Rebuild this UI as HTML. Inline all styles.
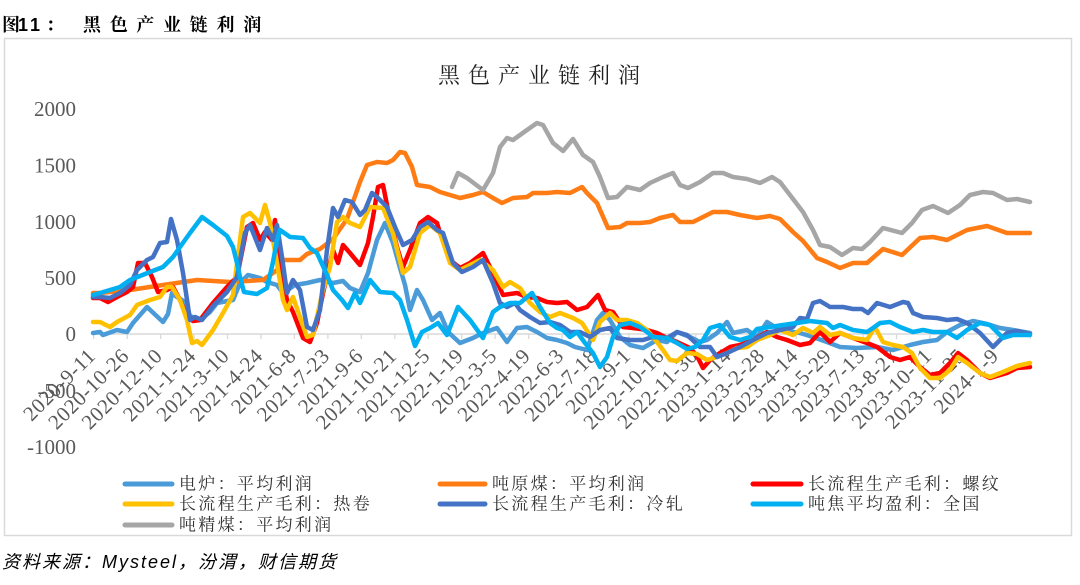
<!DOCTYPE html>
<html><head><meta charset="utf-8"><style>
html,body{margin:0;padding:0;background:#fff;}
svg{display:block;}
.yl{font-family:"Liberation Serif","Noto Serif CJK SC",serif;font-size:21px;fill:#595959;}
.xl{font-family:"Liberation Serif","Noto Serif CJK SC",serif;font-size:21px;fill:#595959;letter-spacing:0.6px;}
.lg{font-family:"Liberation Serif","Noto Serif CJK SC",serif;font-size:17px;fill:#333;letter-spacing:2.3px;}
.s{fill:none;stroke-width:4.5;stroke-linejoin:round;stroke-linecap:round;}
</style></head><body>
<svg width="1080" height="585" viewBox="0 0 1080 585" xmlns="http://www.w3.org/2000/svg">
<rect width="1080" height="585" fill="#fff"/>
<!-- header -->
<text x="2" y="31" font-family="'Liberation Serif','Noto Serif CJK SC',serif" font-size="18" font-weight="bold" fill="#000">图</text>
<text x="18" y="31" font-family="'Liberation Sans','Noto Sans CJK SC',sans-serif" font-size="18" font-weight="bold" fill="#000" letter-spacing="3">11</text>
<text x="46" y="31" font-family="'Liberation Serif','Noto Serif CJK SC',serif" font-size="18" font-weight="bold" fill="#000">：</text>
<text x="83" y="31" font-family="'Liberation Serif','Noto Serif CJK SC',serif" font-size="18" font-weight="bold" fill="#000" letter-spacing="8.7">黑色产业链利润</text>
<!-- frame -->
<rect x="4.5" y="38.5" width="1067" height="497" fill="none" stroke="#d9d9d9" stroke-width="1.5"/>
<!-- title -->
<text x="438" y="83" font-family="'Liberation Serif','Noto Serif CJK SC',serif" font-size="22" fill="#222" letter-spacing="8">黑色产业链利润</text>
<!-- y labels -->
<g class="yl" text-anchor="end" dominant-baseline="central">
<text x="76" y="109">2000</text>
<text x="76" y="165.5">1500</text>
<text x="76" y="222">1000</text>
<text x="76" y="278">500</text>
<text x="76" y="334">0</text>
<text x="76" y="391">-500</text>
<text x="76" y="447">-1000</text>
</g>
<!-- axis -->
<line x1="92" y1="334" x2="1031" y2="334" stroke="#d9d9d9" stroke-width="1.5"/>
<g stroke="#d9d9d9" stroke-width="1.3">
<line x1="93.7" y1="334" x2="93.7" y2="339"/><line x1="127.2" y1="334" x2="127.2" y2="339"/><line x1="160.6" y1="334" x2="160.6" y2="339"/><line x1="194.1" y1="334" x2="194.1" y2="339"/><line x1="227.5" y1="334" x2="227.5" y2="339"/><line x1="261" y1="334" x2="261" y2="339"/><line x1="294.4" y1="334" x2="294.4" y2="339"/><line x1="327.9" y1="334" x2="327.9" y2="339"/><line x1="361.3" y1="334" x2="361.3" y2="339"/><line x1="394.8" y1="334" x2="394.8" y2="339"/><line x1="428.2" y1="334" x2="428.2" y2="339"/><line x1="461.7" y1="334" x2="461.7" y2="339"/><line x1="495.1" y1="334" x2="495.1" y2="339"/><line x1="528.6" y1="334" x2="528.6" y2="339"/><line x1="562" y1="334" x2="562" y2="339"/><line x1="595.5" y1="334" x2="595.5" y2="339"/><line x1="628.9" y1="334" x2="628.9" y2="339"/><line x1="662.4" y1="334" x2="662.4" y2="339"/><line x1="695.8" y1="334" x2="695.8" y2="339"/><line x1="729.3" y1="334" x2="729.3" y2="339"/><line x1="762.7" y1="334" x2="762.7" y2="339"/><line x1="796.2" y1="334" x2="796.2" y2="339"/><line x1="829.6" y1="334" x2="829.6" y2="339"/><line x1="863.1" y1="334" x2="863.1" y2="339"/><line x1="896.5" y1="334" x2="896.5" y2="339"/><line x1="930" y1="334" x2="930" y2="339"/><line x1="963.4" y1="334" x2="963.4" y2="339"/><line x1="996.9" y1="334" x2="996.9" y2="339"/><line x1="1030.3" y1="334" x2="1030.3" y2="339"/>
</g>
<!-- x labels -->
<g class="xl" text-anchor="end">
<text transform="translate(96.7,357) rotate(-45)">2020-9-11</text>
<text transform="translate(130.2,357) rotate(-45)">2020-10-26</text>
<text transform="translate(163.6,357) rotate(-45)">2020-12-10</text>
<text transform="translate(197.1,357) rotate(-45)">2021-1-24</text>
<text transform="translate(230.5,357) rotate(-45)">2021-3-10</text>
<text transform="translate(264,357) rotate(-45)">2021-4-24</text>
<text transform="translate(297.4,357) rotate(-45)">2021-6-8</text>
<text transform="translate(330.9,357) rotate(-45)">2021-7-23</text>
<text transform="translate(364.3,357) rotate(-45)">2021-9-6</text>
<text transform="translate(397.8,357) rotate(-45)">2021-10-21</text>
<text transform="translate(431.2,357) rotate(-45)">2021-12-5</text>
<text transform="translate(464.7,357) rotate(-45)">2022-1-19</text>
<text transform="translate(498.1,357) rotate(-45)">2022-3-5</text>
<text transform="translate(531.6,357) rotate(-45)">2022-4-19</text>
<text transform="translate(565,357) rotate(-45)">2022-6-3</text>
<text transform="translate(598.5,357) rotate(-45)">2022-7-18</text>
<text transform="translate(631.9,357) rotate(-45)">2022-9-1</text>
<text transform="translate(665.4,357) rotate(-45)">2022-10-16</text>
<text transform="translate(698.8,357) rotate(-45)">2022-11-30</text>
<text transform="translate(732.3,357) rotate(-45)">2023-1-14</text>
<text transform="translate(765.7,357) rotate(-45)">2023-2-28</text>
<text transform="translate(799.2,357) rotate(-45)">2023-4-14</text>
<text transform="translate(832.6,357) rotate(-45)">2023-5-29</text>
<text transform="translate(866.1,357) rotate(-45)">2023-7-13</text>
<text transform="translate(899.5,357) rotate(-45)">2023-8-27</text>
<text transform="translate(933,357) rotate(-45)">2023-10-11</text>
<text transform="translate(966.4,357) rotate(-45)">2023-11-25</text>
<text transform="translate(999.9,357) rotate(-45)">2024-1-9</text>
</g>
<!-- series -->
<polyline class="s" stroke="#4A9BD8" points="93,333 100,332 103,335 117,330 127,332 133,323 147,307 163,322 168,314 172,293 177,297 185,302 190,316 200,320 210,312 217,303 233,300 240,283 248,275 260,278 267,282 277,285 283,293 295,285 307,283 320,280 333,283 343,281 350,288 360,292 368,273 377,240 385,223 393,243 400,268 405,285 410,310 417,290 423,300 432,320 440,313 448,332 460,343 473,338 483,333 497,328 507,342 517,328 527,327 537,332 547,338 557,340 567,343 575,347 587,350 597,320 603,313 610,320 620,337 630,345 643,348 657,340 667,342 677,332 690,337 700,342 707,340 717,333 727,322 733,333 747,330 757,337 767,322 780,330 800,333 813,337 827,342 840,347 857,348 877,347 893,350 910,345 923,342 937,340 947,332 960,325 973,321 987,324 1000,328 1013,330 1030,333"/>
<polyline class="s" stroke="#FF7C14" points="93,293 100,293 130,290 163,285 197,280 230,282 263,280 277,270 283,260 300,260 307,254 320,249 333,239 347,219 360,182 367,165 377,162 387,163 393,160 400,152 405,153 412,167 417,185 430,187 440,192 450,195 460,198 473,195 483,192 493,198 502,203 513,198 527,197 533,193 547,193 557,192 570,193 582,187 587,193 597,203 608,228 620,227 627,223 640,223 650,222 660,218 673,215 680,222 693,222 713,212 727,212 740,215 757,218 770,216 780,219 793,232 803,241 817,258 827,262 840,268 853,263 867,263 883,249 902,255 920,238 933,237 947,240 967,230 987,226 1007,233 1030,233"/>
<polyline class="s" stroke="#FF0000" points="93,298 100,298 108,302 117,297 127,292 133,287 138,263 145,263 152,277 158,292 167,290 173,287 180,300 187,317 193,321 200,320 213,303 227,287 237,277 247,227 253,223 260,240 265,232 272,240 275,220 280,263 287,300 293,312 303,338 310,342 317,323 323,293 333,250 338,263 343,245 350,253 360,265 368,243 373,217 378,187 383,185 388,210 397,247 403,267 410,250 420,223 428,217 437,223 440,233 450,260 460,268 470,263 483,253 493,273 503,295 517,293 527,297 537,298 547,302 557,303 567,302 577,310 587,307 598,295 605,310 613,312 623,327 633,328 647,330 657,333 667,338 677,342 690,348 697,356 703,368 710,360 720,353 730,347 740,345 753,340 767,332 777,337 787,340 800,345 810,343 820,332 830,342 840,333 853,338 867,343 877,347 890,357 900,360 910,357 920,367 930,375 940,373 950,363 958,353 967,360 980,373 990,378 1007,373 1017,368 1030,367"/>
<polyline class="s" stroke="#FFC000" points="93,322 100,322 110,327 117,322 130,315 137,305 150,300 160,297 167,287 172,287 180,300 187,320 192,343 197,341 202,345 213,330 223,313 233,295 240,240 243,217 250,213 260,223 265,205 270,223 277,263 283,300 287,310 293,297 300,317 307,337 313,335 323,290 330,267 337,222 343,217 350,223 360,227 370,207 383,208 393,233 403,273 410,267 420,233 430,225 440,233 450,263 460,270 480,260 493,270 503,287 510,282 520,288 530,303 540,312 550,317 560,313 573,318 582,323 593,340 600,322 610,313 617,320 627,320 637,323 647,330 657,342 663,350 670,360 677,361 687,353 697,354 707,360 717,357 727,353 737,348 747,347 757,340 770,335 780,330 793,335 803,328 813,333 820,327 830,335 840,333 853,338 867,340 875,327 883,342 893,345 903,347 912,353 920,368 930,378 940,378 950,370 958,357 967,363 980,373 990,377 1003,372 1017,366 1030,363"/>
<polyline class="s" stroke="#4472C4" points="93,297 100,297 110,298 120,293 130,285 137,270 147,260 153,257 160,243 167,242 171,219 177,240 183,273 190,320 195,317 202,320 213,306 227,292 237,277 245,233 250,225 260,250 267,228 273,240 277,225 282,257 287,293 293,280 300,290 307,327 313,330 320,310 327,250 333,208 338,217 345,200 352,202 360,215 365,210 372,193 378,198 387,207 395,227 403,245 412,240 420,227 428,222 437,230 443,233 453,263 462,272 473,267 483,260 493,283 500,303 507,307 515,303 520,310 530,317 540,323 550,322 560,325 570,332 580,332 590,337 600,330 610,328 617,338 630,340 643,340 653,337 667,338 677,332 687,335 700,347 710,347 717,357 727,353 740,347 753,340 767,333 780,330 793,327 800,318 807,319 813,303 820,301 830,307 843,307 853,309 862,309 868,313 877,303 890,307 903,302 908,303 913,313 923,317 937,318 947,320 957,319 967,323 980,333 993,347 1000,340 1007,333 1017,331 1030,334"/>
<polyline class="s" stroke="#00B0F0" points="93,295 100,293 110,290 120,287 130,280 140,276 150,272 163,267 173,257 180,247 190,233 202,217 213,225 227,236 233,247 237,263 240,277 244,292 257,294 267,288 273,262 277,240 280,230 290,237 303,238 310,248 317,253 327,275 333,290 342,300 348,308 355,293 360,303 370,280 380,292 393,293 400,300 407,320 415,346 422,332 430,328 438,323 447,335 458,307 470,320 483,338 493,312 500,307 510,303 520,303 532,293 540,307 550,323 557,328 563,330 570,337 577,332 585,343 593,353 600,367 607,357 613,337 620,325 630,323 640,327 647,332 653,337 667,338 677,343 687,349 695,347 703,340 710,328 720,325 730,337 740,340 750,337 757,329 770,327 783,325 797,323 810,321 827,323 833,328 840,325 853,330 867,332 873,328 880,323 890,322 900,327 913,332 923,330 933,332 947,332 957,338 967,330 980,323 990,325 1003,338 1013,335 1030,335"/>
<polyline class="s" stroke="#A6A6A6" points="452,187 458,173 467,178 483,190 493,173 500,147 507,138 513,140 527,130 537,123 543,125 553,143 563,151 573,139 583,155 593,162 600,177 608,198 617,197 627,187 640,190 650,183 663,177 673,173 680,185 688,188 700,182 713,173 723,173 733,177 747,179 760,183 772,177 780,182 790,195 803,212 813,230 820,245 830,247 842,255 853,248 862,249 870,242 883,228 902,233 912,223 922,210 933,206 948,213 960,205 970,195 983,192 993,193 1007,200 1017,199 1030,202"/>
<!-- legend -->
<g stroke-width="5" stroke-linecap="round">
<line x1="125" y1="484" x2="172" y2="484" stroke="#4A9BD8"/>
<line x1="440" y1="484" x2="485" y2="484" stroke="#FF7C14"/>
<line x1="753" y1="484" x2="801" y2="484" stroke="#FF0000"/>
<line x1="125" y1="504" x2="172" y2="504" stroke="#FFC000"/>
<line x1="440" y1="504" x2="485" y2="504" stroke="#4472C4"/>
<line x1="753" y1="504" x2="801" y2="504" stroke="#00B0F0"/>
<line x1="125" y1="525" x2="172" y2="525" stroke="#A6A6A6"/>
</g>
<g class="lg" dominant-baseline="central">
<text x="179" y="484">电炉：平均利润</text>
<text x="492" y="484">吨原煤：平均利润</text>
<text x="808" y="484">长流程生产毛利：螺纹</text>
<text x="179" y="504">长流程生产毛利：热卷</text>
<text x="492" y="504">长流程生产毛利：冷轧</text>
<text x="808" y="504">吨焦平均盈利：全国</text>
<text x="179" y="525">吨精煤：平均利润</text>
</g>
<!-- footer -->
<text x="2" y="568" font-family="'Liberation Sans','Noto Sans CJK SC',sans-serif" font-size="18" font-style="italic" fill="#000" letter-spacing="2">资料来源：Mysteel，汾渭，财信期货</text>
</svg>
</body></html>
